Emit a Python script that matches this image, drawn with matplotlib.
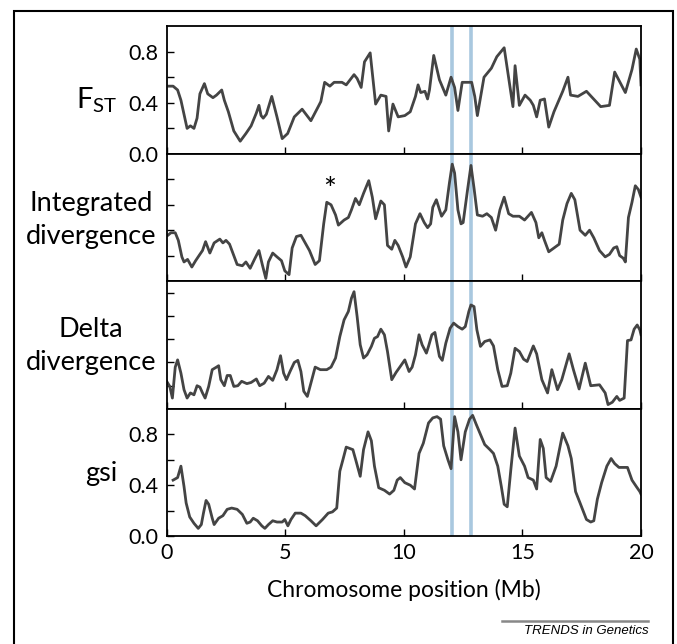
import numpy as np
import matplotlib
matplotlib.use("Agg")
import matplotlib.pyplot as plt
from matplotlib.patches import Rectangle
from matplotlib.lines import Line2D

plt.rcParams['font.family'] = ['Lato', 'DejaVu Sans']
plt.rcParams['mathtext.fontset'] = 'custom'
plt.rcParams['mathtext.rm'] = 'Lato'

# Fst along the chromosome (position in Mb, value)
fst_x = [0.09, 0.27, 0.46, 0.6, 0.73, 0.86, 1.0, 1.15, 1.28, 1.4, 1.59, 1.73, 1.95, 2.1,
         2.32, 2.43, 2.6, 2.83, 3.1, 3.34, 3.56, 3.78, 3.89, 3.98, 4.07, 4.2, 4.43, 4.65,
         4.87, 5.1, 5.38, 5.71, 6.08, 6.39, 6.5, 6.66, 6.88, 7.06, 7.39, 7.57, 7.9, 8.03,
         8.2, 8.34, 8.58, 8.81, 9.03, 9.25, 9.36, 9.54, 9.76, 10.04, 10.27, 10.49, 10.6,
         10.71, 10.89, 11.0, 11.08, 11.26, 11.5, 11.77, 11.99, 12.14, 12.28, 12.46, 12.86,
         12.99, 13.1, 13.38, 13.69, 13.92, 14.23, 14.6, 14.69, 14.87, 15.11, 15.33, 15.46,
         15.6, 15.75, 15.93, 16.11, 16.33, 16.7, 16.92, 17.03, 17.34, 17.7, 18.3, 18.67,
         18.89, 19.34, 19.62, 19.8, 19.95, 20.0]
fst_y = [0.53, 0.53, 0.50, 0.42, 0.31, 0.20, 0.22, 0.20, 0.28, 0.47, 0.55, 0.47, 0.44, 0.46,
         0.50, 0.42, 0.33, 0.18, 0.10, 0.16, 0.22, 0.32, 0.38, 0.30, 0.28, 0.31, 0.45, 0.29,
         0.12, 0.16, 0.29, 0.35, 0.26, 0.37, 0.41, 0.56, 0.53, 0.56, 0.56, 0.54, 0.62, 0.59,
         0.52, 0.72, 0.79, 0.39, 0.46, 0.45, 0.18, 0.39, 0.29, 0.30, 0.33, 0.45, 0.54,
         0.48, 0.49, 0.43, 0.50, 0.77, 0.58, 0.46, 0.60, 0.52, 0.34, 0.56, 0.56,
         0.45, 0.30, 0.60, 0.67, 0.76, 0.83, 0.37, 0.69, 0.38, 0.46, 0.42, 0.38,
         0.29, 0.42, 0.43, 0.21, 0.33, 0.49, 0.60, 0.46, 0.45, 0.49, 0.37, 0.38,
         0.64, 0.48, 0.66, 0.82, 0.74, 0.54]

# integrated divergence (relative scale 0-1)
integ_x = [0.05, 0.18, 0.36, 0.49, 0.64, 0.73, 0.88, 1.06, 1.22, 1.4, 1.51, 1.64, 1.82, 2.0,
           2.24, 2.37, 2.5, 2.65, 2.83, 2.97, 3.19, 3.34, 3.52, 3.7, 3.89, 4.03, 4.18, 4.29,
           4.47, 4.65, 4.84, 4.98, 5.16, 5.29, 5.47, 5.66, 5.84, 6.02, 6.26, 6.44, 6.62,
           6.75, 6.93, 7.12, 7.24, 7.48, 7.66, 7.79, 7.96, 8.12, 8.3, 8.52, 8.67, 8.81,
           9.03, 9.18, 9.31, 9.49, 9.62, 9.76, 9.95, 10.09, 10.27, 10.49, 10.68, 10.86,
           11.0, 11.13, 11.22, 11.37, 11.59, 11.77, 11.92, 12.04, 12.14, 12.28, 12.41,
           12.5, 12.68, 12.83, 12.96, 13.1, 13.32, 13.5, 13.69, 13.87, 14.05, 14.23,
           14.42, 14.6, 14.87, 15.09, 15.38, 15.57, 15.69, 15.82, 15.93, 16.11, 16.33,
           16.55, 16.7, 16.88, 17.06, 17.21, 17.43, 17.65, 17.83, 18.01, 18.25, 18.49,
           18.67, 18.85, 18.98, 19.1, 19.25, 19.34, 19.47, 19.62, 19.76, 19.89, 20.0]
integ_y = [0.36, 0.38, 0.38, 0.32, 0.19, 0.15, 0.17, 0.11, 0.16, 0.21, 0.24, 0.31, 0.22, 0.30,
           0.33, 0.30, 0.32, 0.29, 0.20, 0.13, 0.12, 0.15, 0.10, 0.17, 0.24, 0.13, 0.02, 0.15,
           0.22, 0.19, 0.16, 0.08, 0.05, 0.26, 0.35, 0.36, 0.30, 0.24, 0.13, 0.16, 0.45,
           0.62, 0.60, 0.52, 0.44, 0.48, 0.50, 0.56, 0.65, 0.60, 0.69, 0.79, 0.66, 0.49,
           0.63, 0.60, 0.28, 0.25, 0.32, 0.28, 0.19, 0.11, 0.19, 0.45, 0.53, 0.46,
           0.42, 0.45, 0.58, 0.64, 0.51, 0.56, 0.77, 0.92, 0.85, 0.56, 0.45,
           0.46, 0.71, 0.91, 0.73, 0.52, 0.51, 0.53, 0.50, 0.40, 0.56, 0.66,
           0.53, 0.51, 0.51, 0.48, 0.54, 0.46, 0.34, 0.38, 0.32, 0.23, 0.26,
           0.29, 0.48, 0.61, 0.69, 0.64, 0.40, 0.36, 0.40, 0.34, 0.24, 0.19,
           0.21, 0.26, 0.27, 0.20, 0.18, 0.15, 0.50, 0.62, 0.75, 0.72, 0.66]

# delta divergence
delta_x = [0.0, 0.13, 0.24, 0.36, 0.46, 0.6, 0.73, 0.86, 1.0, 1.15, 1.28, 1.4, 1.51, 1.62,
           1.77, 1.92, 2.1, 2.19, 2.28, 2.43, 2.55, 2.68, 2.83, 3.0, 3.16, 3.38, 3.56, 3.78,
           3.92, 4.11, 4.29, 4.47, 4.65, 4.8, 4.93, 5.05, 5.2, 5.38, 5.53, 5.66, 5.78, 5.93,
           6.08, 6.26, 6.48, 6.75, 6.93, 7.12, 7.3, 7.48, 7.66, 7.79, 7.9, 8.03, 8.16, 8.3,
           8.45, 8.63, 8.76, 8.89, 9.03, 9.18, 9.31, 9.49, 9.67, 9.85, 10.04, 10.22, 10.35,
           10.49, 10.64, 10.77, 10.95, 11.04, 11.18, 11.31, 11.5, 11.62, 11.77, 11.95, 12.1,
           12.28, 12.46, 12.59, 12.74, 12.83, 12.96, 13.08, 13.23, 13.41, 13.63, 13.78,
           13.96, 14.14, 14.36, 14.51, 14.69, 14.87, 15.05, 15.2, 15.46, 15.6, 15.82, 16.06,
           16.24, 16.48, 16.66, 16.97, 17.15, 17.39, 17.65, 17.88, 18.25, 18.49, 18.61,
           18.79, 18.98, 19.1, 19.29, 19.43, 19.58, 19.71, 19.84, 19.95, 20.0]
delta_y = [1.19, 0.97, 0.47, 1.80, 2.11, 1.54, 0.83, 0.47, 0.69, 0.61, 1.00, 0.94, 0.69, 0.47,
           0.97, 1.69, 1.80, 1.86, 1.26, 1.00, 1.44, 1.44, 0.97, 1.00, 1.19, 1.09, 1.14, 1.29,
           1.00, 1.11, 1.40, 1.23, 1.69, 2.29, 1.54, 1.26, 1.61, 2.00, 2.09, 1.61, 0.76, 0.54,
           1.11, 1.80, 1.69, 1.69, 1.80, 2.19, 3.11, 3.83, 4.19, 4.76, 5.04, 3.97, 2.76, 2.19,
           2.33, 2.69, 3.04, 3.11, 3.43, 3.19, 2.47, 1.26, 1.57, 1.83, 2.11, 1.61, 1.80,
           2.33, 3.19, 2.76, 2.40, 2.69, 3.19, 3.29, 2.26, 2.09, 2.83, 3.47, 3.69,
           3.54, 3.43, 3.54, 4.19, 4.47, 4.40, 3.40, 2.69, 2.90, 2.97, 2.71,
           1.69, 0.97, 1.00, 1.54, 2.61, 2.47, 2.14, 2.04, 2.71, 2.37, 1.26, 0.69,
           1.69, 0.83, 1.26, 2.37, 1.69, 0.86, 1.97, 1.00, 1.04, 0.69, 0.19,
           0.29, 0.54, 0.37, 0.47, 2.94, 2.97, 3.43, 3.61, 3.40, 3.19]

# gsi
gsi_x = [0.27, 0.46, 0.6, 0.73, 0.82, 0.97, 1.15, 1.33, 1.46, 1.55, 1.66, 1.77, 1.92, 2.0,
         2.19, 2.37, 2.55, 2.74, 2.97, 3.19, 3.38, 3.52, 3.65, 3.83, 4.01, 4.14, 4.29, 4.47,
         4.65, 4.87, 4.98, 5.11, 5.24, 5.42, 5.66, 5.84, 6.08, 6.3, 6.57, 6.81, 6.99, 7.17,
         7.3, 7.43, 7.57, 7.85, 7.97, 8.16, 8.3, 8.49, 8.63, 8.76, 8.94, 9.18, 9.4, 9.58,
         9.72, 9.85, 10.04, 10.27, 10.45, 10.64, 10.82, 11.04, 11.22, 11.4, 11.55, 11.68,
         11.86, 11.99, 12.14, 12.28, 12.41, 12.59, 12.77, 12.9, 13.05, 13.23, 13.41, 13.63,
         13.78, 13.96, 14.11, 14.23, 14.36, 14.51, 14.69, 14.87, 15.09, 15.24, 15.46, 15.6,
         15.75, 15.88, 16.0, 16.19, 16.42, 16.7, 16.92, 17.06, 17.24, 17.43, 17.7, 17.88,
         18.01, 18.16, 18.34, 18.56, 18.74, 18.89, 19.07, 19.43, 19.62, 19.8, 19.95, 20.0]
gsi_y = [0.44, 0.46, 0.55, 0.39, 0.26, 0.15, 0.10, 0.06, 0.09, 0.18, 0.28, 0.25, 0.14, 0.09,
         0.14, 0.16, 0.21, 0.22, 0.21, 0.17, 0.10, 0.11, 0.14, 0.12, 0.08, 0.06, 0.09, 0.12,
         0.11, 0.11, 0.13, 0.08, 0.13, 0.18, 0.18, 0.16, 0.12, 0.08, 0.13, 0.18, 0.19, 0.22,
         0.51, 0.60, 0.70, 0.68, 0.60, 0.47, 0.68, 0.82, 0.75, 0.55, 0.38, 0.36, 0.33, 0.36,
         0.44, 0.46, 0.42, 0.40, 0.37, 0.65, 0.73, 0.89, 0.93, 0.94, 0.92, 0.71,
         0.60, 0.53, 0.94, 0.82, 0.60, 0.82, 0.92, 0.95, 0.88, 0.80, 0.72, 0.68,
         0.65, 0.55, 0.39, 0.25, 0.23, 0.52, 0.85, 0.63, 0.55, 0.46, 0.44, 0.37,
         0.76, 0.69, 0.46, 0.43, 0.55, 0.81, 0.71, 0.61, 0.35, 0.26, 0.13, 0.11,
         0.12, 0.29, 0.42, 0.55, 0.61, 0.57, 0.54, 0.54, 0.44, 0.39, 0.35, 0.33]

highlight = [12.05, 12.85]

line_col = '#444444'
blue = '#a9c8df'

fig = plt.figure(figsize=(6.77, 6.44), dpi=100)

W, H = 677.0, 644.0
left, right = 166.7, 641.0
edges = [26, 154, 281, 409, 536]

panels = [
    (fst_x, fst_y, (0, 1.0), [0, 0.2, 0.4, 0.6, 0.8], ['0.0', '', '0.4', '', '0.8']),
    (integ_x, integ_y, (0, 1.0), [0.2, 0.4, 0.6, 0.8], []),
    (delta_x, delta_y, (0, 5.5), [1, 2, 3, 4, 5], []),
    (gsi_x, gsi_y, (0, 1.0), [0, 0.2, 0.4, 0.6, 0.8], ['0.0', '', '0.4', '', '0.8']),
]

axes = []
for i, (xs, ys, ylim, yt, ytl) in enumerate(panels):
    top, bot = edges[i], edges[i + 1]
    ax = fig.add_axes([left / W, 1 - bot / H, (right - left) / W, (bot - top) / H])
    for h in highlight:
        ax.axvline(h, color=blue, lw=2.6, zorder=1)
    ax.plot(xs, ys, color=line_col, lw=2.0, zorder=2, solid_joinstyle='round')
    ax.set_xlim(0, 20)
    ax.set_ylim(*ylim)
    ax.set_yticks(yt)
    if ytl:
        ax.set_yticklabels(ytl)
    else:
        ax.set_yticklabels([])
    ax.set_xticks([0, 5, 10, 15, 20])
    ax.tick_params(direction='in', length=5, width=1.0, labelsize=15.5, pad=6)
    ax.tick_params(axis='x', labelbottom=(i == 3), pad=5)
    for s in ax.spines.values():
        s.set_linewidth(1.3)
        s.set_color('black')
    axes.append(ax)

axes[1].text(6.85, 0.72, '*', fontsize=22, ha='center', va='center')

lab = dict(fontsize=19.5, ha='center', va='center', linespacing=1.4)
fig.text(97 / W, 1 - 100 / H, r'$\mathrm{F}_\mathrm{ST}$', fontsize=21, ha='center', va='center')
fig.text(91 / W, 1 - 220 / H, 'Integrated\ndivergence', **lab)
fig.text(91 / W, 1 - 346 / H, 'Delta\ndivergence', **lab)
fig.text(101 / W, 1 - 474 / H, 'gsi', **lab)
fig.text(404 / W, 1 - 590 / H, 'Chromosome position (Mb)', fontsize=16.5, ha='center', va='center')

# journal footer and frame
fig.add_artist(Line2D([502 / W, 648 / W], [1 - 621 / H, 1 - 621 / H], color='#888888', lw=1.8))
fig.text(649 / W, 1 - 631 / H, 'TRENDS in Genetics', fontsize=9.5, style='italic',
         family='Liberation Sans', ha='right', va='center')
fig.add_artist(Rectangle((14 / W, -0.01), (673 - 14) / W, 1 - 11 / H + 0.01,
                         transform=fig.transFigure, fill=False, ec='black', lw=1.5))

fig.savefig('out.png', dpi=100)
